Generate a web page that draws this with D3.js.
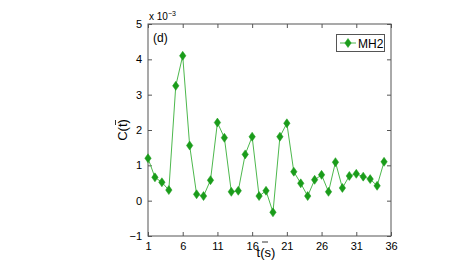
<!DOCTYPE html>
<html><head><meta charset="utf-8">
<script src="https://cdn.jsdelivr.net/npm/d3@7"></script>
<style>body{margin:0;background:#fff}svg{display:block}text{font-family:"Liberation Sans",Arial,sans-serif}</style>
</head><body><svg id="c" width="463" height="261"></svg>
<script>
const tVals = d3.range(1, 36);
const cVals = [1.20,0.66,0.52,0.30,3.25,4.10,1.56,0.18,0.13,0.58,2.21,1.78,0.25,0.28,1.31,1.81,0.13,0.28,-0.33,1.81,2.19,0.82,0.49,0.13,0.59,0.73,0.25,1.09,0.36,0.70,0.76,0.68,0.61,0.42,1.10];
const xTicks = [1,6,11,16,21,26,31,36];
const yTicks = [-1,0,1,2,3,4,5];
const seriesName = "MH2";

const svg = d3.select("#c");
const L=148,R=391,T=24,B=236;
const x = d3.scaleLinear().domain([1,36]).range([L,R]);
const y = d3.scaleLinear().domain([-1,5]).range([B,T]);
const axisCol="#555";

svg.append("rect").attr("x",L).attr("y",T).attr("width",R-L).attr("height",B-T).attr("fill","none").attr("stroke",axisCol).attr("stroke-width",1);

const gx = svg.append("g").attr("transform",`translate(0,${B})`).call(d3.axisBottom(x).tickValues(xTicks).tickSizeInner(-4).tickSizeOuter(0).tickPadding(6));
const gxt = svg.append("g").attr("transform",`translate(0,${T})`).call(d3.axisTop(x).tickValues(xTicks).tickSizeInner(-4).tickSizeOuter(0).tickFormat(""));
const gy = svg.append("g").attr("transform",`translate(${L},0)`).call(d3.axisLeft(y).tickValues(yTicks).tickSizeInner(-4).tickSizeOuter(0).tickPadding(6).tickFormat(d=>d<0?"\u2212"+Math.abs(d):d));
const gyr = svg.append("g").attr("transform",`translate(${R},0)`).call(d3.axisRight(y).tickValues(yTicks).tickSizeInner(-4).tickSizeOuter(0).tickFormat(""));
[gx,gxt,gy,gyr].forEach(g=>{g.select(".domain").remove();g.selectAll("line").attr("stroke",axisCol);g.selectAll("text").attr("font-size",11).attr("fill","#000").attr("font-family","Liberation Sans, Arial, sans-serif");});

const line = d3.line().x((d,i)=>x(tVals[i])).y(d=>y(d));
svg.append("path").datum(cVals).attr("d",line).attr("fill","none").attr("stroke","#4db84d").attr("stroke-width",1);

const diamond = (cx,cy)=>`M${cx},${cy-4.5}L${cx+3.2},${cy}L${cx},${cy+4.5}L${cx-3.2},${cy}Z`;
svg.append("g").selectAll("path").data(cVals).join("path")
  .attr("d",(d,i)=>diamond(x(tVals[i]),y(d))).attr("fill","#1a9c1a").attr("stroke","#1a9c1a").attr("stroke-width",0.5);

const ex = svg.append("text").attr("x",149).attr("y",20).attr("font-size",10);
ex.append("tspan").text("x 10");
ex.append("tspan").attr("dy",-4).attr("font-size",7).text("\u22123");

svg.append("text").attr("x",153).attr("y",42).attr("font-size",12).text("(d)");

// y label
svg.append("text").attr("transform","translate(127,130) rotate(-90)").attr("text-anchor","middle").attr("font-size",13).text("C(t)");
svg.append("line").attr("x1",115.5).attr("x2",115.5).attr("y1",120).attr("y2",125).attr("stroke","#000").attr("stroke-width",0.8);

// x label
svg.append("text").attr("x",266).attr("y",257).attr("text-anchor","middle").attr("font-size",13).text("t(s)");
svg.append("line").attr("x1",262).attr("x2",268).attr("y1",242).attr("y2",242).attr("stroke","#000").attr("stroke-width",0.8);

// legend
svg.append("rect").attr("x",336.5).attr("y",34.5).attr("width",48).attr("height",17).attr("fill","#fff").attr("stroke","#555");
svg.append("line").attr("x1",340).attr("x2",356).attr("y1",43).attr("y2",43).attr("stroke","#4db84d");
svg.append("path").attr("d",diamond(348,43)).attr("fill","#1a9c1a").attr("stroke","#1a9c1a").attr("stroke-width",0.5);
svg.append("text").attr("x",358).attr("y",47.5).attr("font-size",12).text(seriesName);
</script></body></html>
